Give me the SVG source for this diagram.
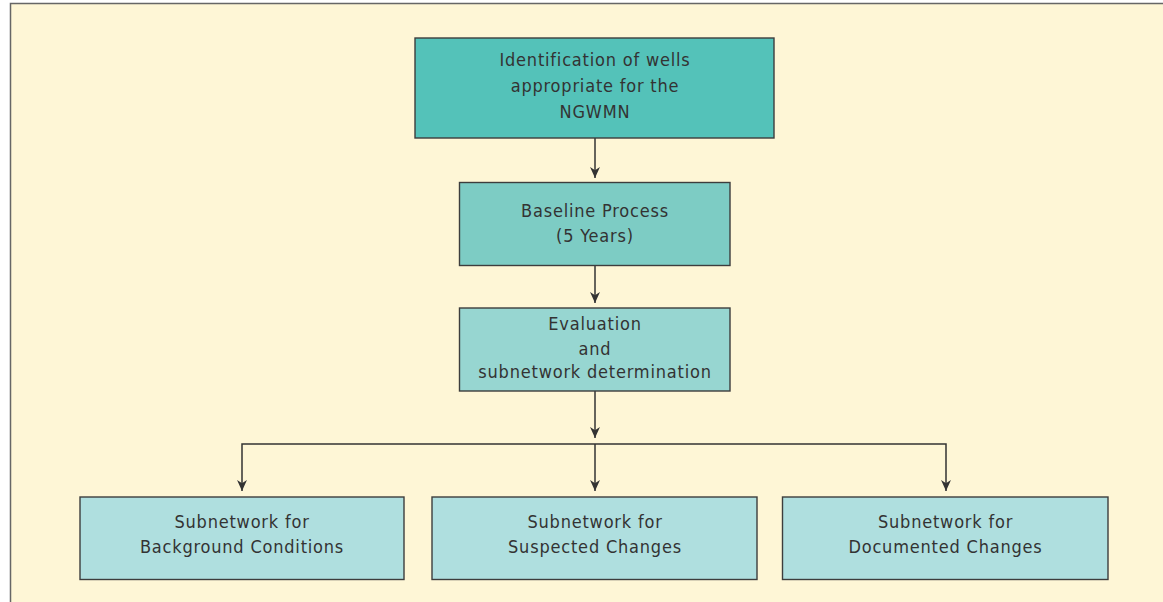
<svg xmlns="http://www.w3.org/2000/svg" width="1163" height="602" viewBox="0 0 1163 602">
<style>
.box{stroke:#3d3d3d;stroke-width:1.4}
.t{font-family:"DejaVu Sans Condensed","DejaVu Sans","Liberation Sans",sans-serif;font-stretch:condensed;font-size:18px;letter-spacing:0.8px;fill:#333;text-anchor:middle}
.c{stroke:#333;stroke-width:1.5;fill:none}
</style>
<defs>
<marker id="ah" viewBox="0 0 10 10" refX="10" refY="5" markerWidth="11" markerHeight="11" markerUnits="userSpaceOnUse" orient="auto">
<path d="M0,0.5 L10,5 L0,9.5 L3,5 z" fill="#333"/>
</marker>
</defs>
<rect x="0" y="0" width="1163" height="602" fill="#ffffff"/>
<rect x="10.5" y="3.5" width="1160" height="610" fill="#FEF6D6" stroke="#666" stroke-width="1.5"/>
<g id="connectors">
<line class="c" x1="595" y1="138" x2="595" y2="178" marker-end="url(#ah)"/>
<line class="c" x1="595" y1="266" x2="595" y2="303" marker-end="url(#ah)"/>
<line class="c" x1="595" y1="391" x2="595" y2="438" marker-end="url(#ah)"/>
<polyline class="c" points="595,444 242,444 242,491" marker-end="url(#ah)"/>
<polyline class="c" points="595,444 946,444 946,491" marker-end="url(#ah)"/>
<line class="c" x1="595" y1="444" x2="595" y2="491" marker-end="url(#ah)"/>
</g>
<g id="n1">
<rect class="box" x="415" y="38" width="359" height="100" fill="#54C2B9"/>
<text class="t" x="595" y="66">Identification of wells</text>
<text class="t" x="595" y="92">appropriate for the</text>
<text class="t" x="595" y="117.5">NGWMN</text>
</g>
<g id="n2">
<rect class="box" x="459.5" y="182.5" width="270.5" height="83" fill="#7DCCC4"/>
<text class="t" x="595" y="217">Baseline Process</text>
<text class="t" x="595" y="242">(5 Years)</text>
</g>
<g id="n3">
<rect class="box" x="459.5" y="308" width="270.5" height="83" fill="#97D6D1"/>
<text class="t" x="595" y="330">Evaluation</text>
<text class="t" x="595" y="355">and</text>
<text class="t" x="595" y="378">subnetwork determination</text>
</g>
<g id="n4">
<rect class="box" x="80" y="497" width="324" height="82.5" fill="#AFDFDF"/>
<text class="t" x="242" y="528">Subnetwork for</text>
<text class="t" x="242" y="553">Background Conditions</text>
</g>
<g id="n5">
<rect class="box" x="432" y="497" width="325" height="82.5" fill="#AFDFDF"/>
<text class="t" x="595" y="528">Subnetwork for</text>
<text class="t" x="595" y="553">Suspected Changes</text>
</g>
<g id="n6">
<rect class="box" x="782.5" y="497" width="325.5" height="82.5" fill="#AFDFDF"/>
<text class="t" x="945.5" y="528">Subnetwork for</text>
<text class="t" x="945.5" y="553">Documented Changes</text>
</g>
</svg>
